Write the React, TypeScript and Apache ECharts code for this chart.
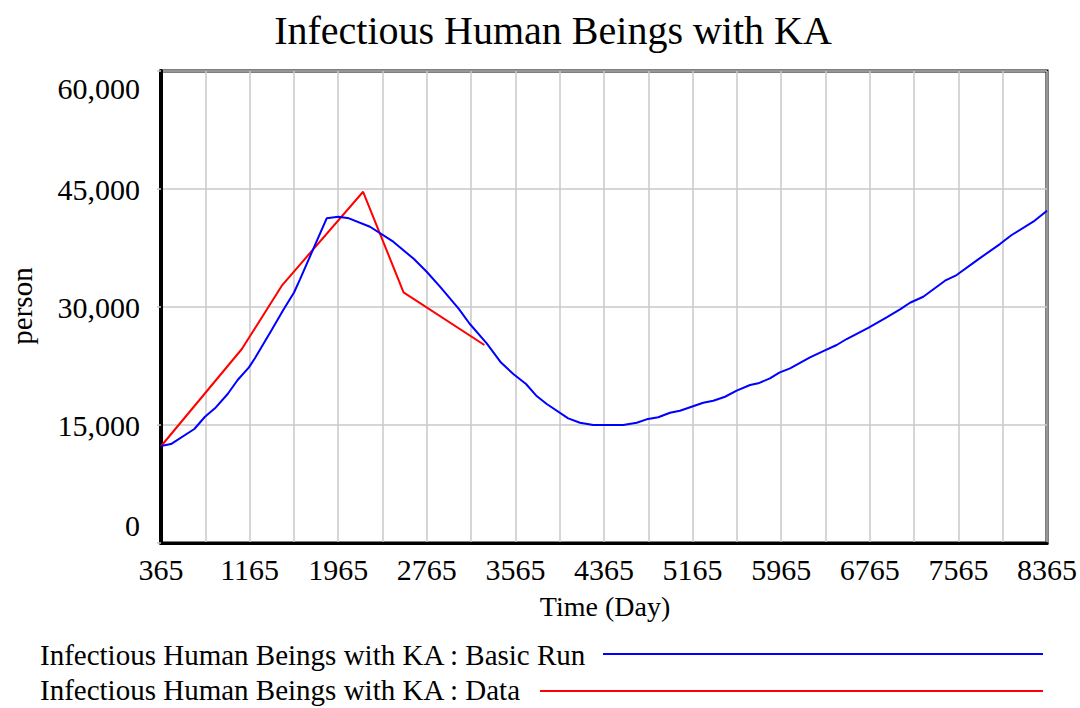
import React, { useEffect, useRef } from "react";
import * as echarts from "echarts";

const TITLE = "Infectious Human Beings with KA";
const X_NAME = "Time (Day)";
const Y_NAME = "person";
const SERIES_NAMES = [
  "Infectious Human Beings with KA : Basic Run",
  "Infectious Human Beings with KA : Data",
];
const SERIES_COLORS = ["#0000ff", "#ff0000"];

const X_START = 365;
const X_END = 8365;
const X_GRID_STEP = 400;
const X_LABEL_STEP = 800;
const Y_MIN = 0;
const Y_MAX = 60000;
const Y_STEP = 15000;

const BASIC_DAYS = [
  365, 455, 666, 762, 852, 967, 1057, 1159, 1213, 1364, 1469, 1566, 1620, 1861,
  1966, 2062, 2252, 2462, 2649, 2764, 2884, 3054, 3152, 3306, 3435, 3546, 3661,
  3757, 3848, 4042, 4148, 4268, 4539, 4660, 4750, 4855, 4961, 5051, 5261, 5352,
  5458, 5563, 5684, 5758, 5863, 5948, 6045, 6225, 6345, 6466, 6556, 6751, 6917,
  7038, 7128, 7248, 7444, 7549, 7744, 7940, 8046, 8241, 8365,
];
const BASIC_VALUES = [
  12330, 12580, 14490, 16050, 17120, 18940, 20720, 22330, 23480, 27070, 29610,
  31840, 33520, 41270, 41470, 41270, 40200, 38300, 36100, 34480, 32580, 29770,
  27870, 25380, 22940, 21480, 20210, 18680, 17670, 15850, 15290, 15000, 15000,
  15290, 15720, 15980, 16560, 16820, 17830, 18080, 18590, 19360, 20080, 20300,
  20930, 21650, 22200, 23600, 24400, 25170, 25930, 27360, 28690, 29700, 30540,
  31300, 33340, 34060, 36060, 38000, 39150, 40840, 42240,
];

const DATA_DAYS = [365, 1095, 1460, 2190, 2555, 3285];
const DATA_VALUES = [12300, 24660, 32790, 44650, 31860, 25170];

const FONT = "'Liberation Serif', 'Times New Roman', serif";

export default function App() {
  const ref = useRef<HTMLDivElement>(null);

  useEffect(() => {
    if (!ref.current) return;
    const chart = echarts.init(ref.current, undefined, { renderer: "svg" });

    const toPairs = (days: number[], vals: number[]) =>
      days.map((d, i) => [d - X_START, vals[i]]);

    const option: any = {
      animation: false,
      backgroundColor: "#ffffff",
      textStyle: { fontFamily: FONT },
      grid: {
        left: 161,
        right: 33,
        top: 71,
        bottom: 165,
        show: true,
        borderColor: "#000000",
        borderWidth: 3,
        backgroundColor: "transparent",
      },
      xAxis: {
        type: "value",
        min: 0,
        max: X_END - X_START,
        interval: X_GRID_STEP,
        axisLine: { show: true, lineStyle: { color: "#000", width: 3 } },
        axisTick: { show: false },
        splitLine: { show: true, lineStyle: { color: "#c8c8c8", width: 1.5 } },
        axisLabel: {
          color: "#000",
          fontFamily: FONT,
          fontSize: 30,
          margin: 11,
          formatter: (v: number) =>
            Math.round(v) % X_LABEL_STEP === 0 ? String(Math.round(v) + X_START) : "",
        },
      },
      yAxis: {
        type: "value",
        min: Y_MIN,
        max: Y_MAX,
        interval: Y_STEP,
        axisLine: { show: true, lineStyle: { color: "#000", width: 4 } },
        axisTick: { show: true, length: 4, lineStyle: { color: "#c8c8c8", width: 1.5 } },
        splitLine: { show: true, lineStyle: { color: "#c8c8c8", width: 1.5 } },
        axisLabel: {
          color: "#000",
          fontFamily: FONT,
          fontSize: 30,
          margin: 21,
          formatter: (v: number) => {
            const s = v.toLocaleString("en-US");
            if (v === Y_MAX) return `{gt| }\n{v|${s}}`;
            if (v === Y_MIN) return `{v|${s}}\n{gb| }`;
            return `{v|${s}}`;
          },
          rich: {
            v: { fontSize: 30, fontFamily: FONT, color: "#000", lineHeight: 32 },
            gt: { fontSize: 10, lineHeight: 34 },
            gb: { fontSize: 10, lineHeight: 36 },
          },
        },
      },
      series: [
        {
          name: SERIES_NAMES[0],
          type: "line",
          data: toPairs(BASIC_DAYS, BASIC_VALUES),
          showSymbol: false,
          lineStyle: { color: SERIES_COLORS[0], width: 2 },
          itemStyle: { color: SERIES_COLORS[0] },
          z: 3,
        },
        {
          name: SERIES_NAMES[1],
          type: "line",
          data: toPairs(DATA_DAYS, DATA_VALUES),
          showSymbol: false,
          lineStyle: { color: SERIES_COLORS[1], width: 2 },
          itemStyle: { color: SERIES_COLORS[1] },
          z: 2,
        },
      ],
      graphic: [
        {
          type: "text",
          x: 553,
          y: 30,
          style: {
            text: TITLE,
            font: `40px ${FONT}`,
            fill: "#000",
            align: "center",
            verticalAlign: "middle",
          },
        },
        {
          type: "text",
          x: 605,
          y: 606,
          style: {
            text: X_NAME,
            font: `28px ${FONT}`,
            fill: "#000",
            align: "center",
            verticalAlign: "middle",
          },
        },
        {
          type: "text",
          x: 22,
          y: 306,
          rotation: Math.PI / 2,
          style: {
            text: Y_NAME,
            font: `29px ${FONT}`,
            fill: "#000",
            align: "center",
            verticalAlign: "middle",
          },
        },
        {
          type: "text",
          x: 40,
          y: 655,
          style: {
            text: SERIES_NAMES[0],
            font: `29px ${FONT}`,
            fill: "#000",
            align: "left",
            verticalAlign: "middle",
          },
        },
        {
          type: "line",
          shape: { x1: 603, y1: 654, x2: 1043, y2: 654 },
          style: { stroke: SERIES_COLORS[0], lineWidth: 2 },
        },
        {
          type: "text",
          x: 40,
          y: 690,
          style: {
            text: SERIES_NAMES[1],
            font: `29px ${FONT}`,
            fill: "#000",
            align: "left",
            verticalAlign: "middle",
          },
        },
        {
          type: "line",
          shape: { x1: 540, y1: 691, x2: 1043, y2: 691 },
          style: { stroke: SERIES_COLORS[1], lineWidth: 2 },
        },
      ],
    };

    chart.setOption(option);
    return () => chart.dispose();
  }, []);

  return (
    <div
      ref={ref}
      style={{ position: "absolute", left: 0, top: 0, width: 1080, height: 708 }}
    />
  );
}
